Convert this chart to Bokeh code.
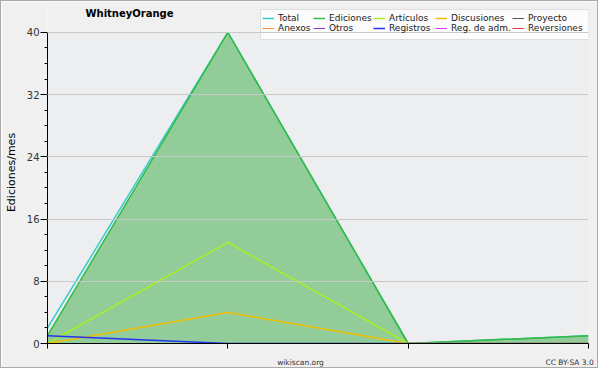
from bokeh.plotting import figure
from bokeh.models import Range1d, FixedTicker, Legend, LegendItem, Label, BoxAnnotation
from bokeh.embed import file_html
from bokeh.resources import INLINE

# ---- data ----
months = [0, 1, 2, 3]
total = [2, 40, 0, 1]
ediciones = [1, 40, 0, 1]
articulos = [0, 13, 0, 0]
discusiones = [0, 4, 0, 0]
proyecto = [0, 0, 0, 0]
anexos = [0, 0, 0, 0]
otros = [0, 0, 0, 0]
registros = [1, 0, 0, 0]
reg_adm = [0, 0, 0, 0]
reversiones = [0, 0, 0, 0]

series_names = ["Total", "Ediciones", "Artículos", "Discusiones", "Proyecto",
                "Anexos", "Otros", "Registros", "Reg. de adm.", "Reversiones"]

y_ticks = [0, 8, 16, 24, 32, 40]
y_minor = [2, 4, 6, 10, 12, 14, 18, 20, 22, 26, 28, 30, 34, 36, 38]
y_max = 40
footer = {1.403: "wikiscan.org", 2.895: "CC BY-SA 3.0"}

FONT = "DejaVu Sans"

p = figure(width=598, height=368, output_backend="svg", toolbar_location=None,
           x_range=Range1d(0, 3), y_range=Range1d(0, y_max + 31 / 7.8),
           min_border_left=46, min_border_right=11, min_border_top=0, min_border_bottom=25)
p.border_fill_color = "#f0f0f0"
p.background_fill_color = "#f0f0f0"
p.outline_line_color = None
p.add_layout(BoxAnnotation(top=y_max, fill_color="#edeef0", fill_alpha=1,
                           line_color=None, level="underlay"))

# y axis
p.yaxis.ticker = FixedTicker(ticks=y_ticks, minor_ticks=y_minor)
p.yaxis.bounds = (0, y_max)
p.yaxis.major_tick_out = 7
p.yaxis.major_tick_in = 0
p.yaxis.minor_tick_out = 3
p.yaxis.minor_tick_in = 0
p.yaxis.major_label_text_font = FONT
p.yaxis.major_label_text_font_size = "10px"
p.yaxis.major_label_text_color = "#333333"
p.yaxis.major_label_standoff = 1
p.yaxis.axis_label = "Ediciones/mes"
p.yaxis.axis_label_text_font = FONT
p.yaxis.axis_label_text_font_size = "11px"
p.yaxis.axis_label_text_font_style = "normal"
p.yaxis.axis_label_text_color = "#000000"
p.yaxis.axis_label_standoff = 6

# x axis: month ticks drawn as (minor) tick marks, footer texts as labels
xa = p.xaxis[0]
xa.ticker = FixedTicker(ticks=list(footer.keys()), minor_ticks=months)
xa.major_label_overrides = footer
xa.major_tick_line_color = None
xa.major_tick_out = 5
xa.minor_tick_line_color = "black"
xa.minor_tick_out = 5
xa.minor_tick_in = 0
xa.major_label_standoff = 9
xa.major_label_text_font = FONT
xa.major_label_text_font_size = "7.5px"
xa.major_label_text_color = "#333333"

p.xgrid.grid_line_color = None
p.ygrid.grid_line_color = "#c8c8c8"
p.ygrid.level = "overlay"

# series (all-zero ones first, underneath)
rs = {}
for name, ys, c in [("Proyecto", proyecto, "#555555"), ("Anexos", anexos, "#ff8833"),
                    ("Otros", otros, "#8833dd"), ("Reg. de adm.", reg_adm, "#dd33ee"),
                    ("Reversiones", reversiones, "#ff3333")]:
    rs[name] = p.line(months, ys, line_color=c, line_width=1)
rs["Total"] = p.line(months, total, line_color="#33cccc", line_width=1.5)
p.varea(x=months, y1=[0] * len(months), y2=ediciones, fill_color="#38a941", fill_alpha=0.5)
rs["Ediciones"] = p.line(months, ediciones, line_color="#33bb44", line_width=1.5)
rs["Artículos"] = p.line(months, articulos, line_color="#aaee22", line_width=1.5)
rs["Discusiones"] = p.line(months, discusiones, line_color="#f0c000", line_width=1.5)
rs["Registros"] = p.line(months, registros, line_color="#2233ee", line_width=1.5)

# legend: framed box with five columns of two entries
p.add_layout(BoxAnnotation(left=213, right=541, bottom=304, top=334,
                           left_units="screen", right_units="screen",
                           bottom_units="screen", top_units="screen",
                           fill_color="#fcfcfc", fill_alpha=1,
                           line_color="#aaaaaa", line_width=1, level="annotation"))
col_x = [215, 266, 326, 388, 465]
for j, cx in enumerate(col_x):
    its = [LegendItem(label=series_names[k], renderers=[rs[series_names[k]]])
           for k in (j, j + 5)]
    p.add_layout(Legend(items=its, location=(cx, 310), orientation="vertical",
                        label_text_font=FONT, label_text_font_size="9px",
                        label_text_color="#222222", glyph_width=12, glyph_height=10,
                        label_height=10, label_standoff=4, spacing=0, padding=0, margin=0,
                        background_fill_alpha=0, border_line_color=None), "center")

p.add_layout(Label(x=38, y=330, x_units="screen", y_units="screen", text="WhitneyOrange",
                   text_font=FONT, text_font_size="10px", text_font_style="bold",
                   text_color="#000000", text_baseline="middle"))

p.styles = {"border": "1px solid #aaaaaa"}

open("out.html", "w").write(file_html(p, INLINE))
